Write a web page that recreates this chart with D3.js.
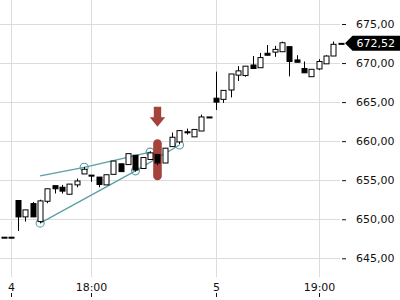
<!DOCTYPE html>
<html>
<head>
<meta charset="utf-8">
<script src="https://cdnjs.cloudflare.com/ajax/libs/d3/7.8.5/d3.min.js"></script>
<style>
    body { margin: 0; background: #fff; }
    text { font-family: "DejaVu Sans", sans-serif; font-size: 11px; fill: #111; }
</style>
</head>
<body>
<script>
(function(){

//candle values, one entry per bar
var opens  = [647.7, 647.7, 652.4, 650.3, 652.0, 649.7, 652.3, 654.3, 654.1, 653.2,
              654.4, 655.8, 655.65, 655.4, 654.4, 655.75, 657.1, 657.0, 658.2, 656.5,
              657.65, 658.3, 657.2, 659.3, 659.9, 661.2, 660.55, 661.3, 663.1, 665.5,
              665.35, 666.55, 668.45, 668.4, 669.75, 669.4, 671.25, 671.4, 671.45, 672.1,
              670.4, 669.3, 668.25, 669.25, 669.9, 670.9, 672.52];
var highs  = [647.7, 647.7, 652.4, 651.2, 652.2, 652.5, 653.9, 654.3, 654.4, 654.5,
              655.2, 656.7, 655.65, 655.4, 655.7, 657.45, 657.1, 658.4, 658.2, 657.9,
              658.7, 658.3, 659.1, 661.1, 661.35, 661.6, 661.5, 663.4, 663.1, 668.9,
              666.5, 668.6, 669.6, 669.6, 670.9, 671.3, 672.3, 672.2, 672.75, 672.1,
              671.0, 670.2, 669.2, 670.5, 671.0, 672.75, 672.52];
var lows   = [647.7, 647.7, 648.5, 649.7, 650.3, 649.5, 652.05, 653.3, 653.3, 653.2,
              654.1, 655.8, 654.8, 654.1, 654.4, 655.75, 656.1, 657.0, 656.1, 656.5,
              657.65, 656.9, 657.2, 659.3, 659.6, 660.85, 660.55, 661.3, 663.1, 664.0,
              664.9, 665.6, 667.7, 668.25, 669.3, 669.4, 671.0, 670.8, 671.45, 668.3,
              670.1, 668.75, 668.25, 669.1, 669.9, 670.9, 672.52];
var closes = [647.7, 647.7, 650.3, 651.2, 650.3, 652.35, 653.9, 653.9, 653.6, 654.5,
              654.9, 656.4, 655.55, 654.45, 655.7, 657.45, 656.1, 658.4, 656.3, 657.9,
              658.5, 657.2, 659.1, 660.5, 661.35, 661.15, 661.5, 663.1, 663.1, 665.0,
              666.5, 668.6, 669.0, 669.6, 669.3, 670.7, 671.0, 671.75, 672.6, 670.2,
              670.1, 668.75, 669.2, 670.2, 670.9, 672.4, 672.52];

//axis ticks
var xTickIndex  = [1, 12, 29, 43];
var xTickLabels = ["4", "18:00", "5", "19:00"];
var yTicks = [645, 650, 655, 660, 665, 670, 675];
var lastPrice = 672.52;

//wedge drawing: [bar index, price]
var upperLine = [[5, 655.55], [11, 656.65], [20, 658.6]];
var upperDots = [[11, 656.65], [20, 658.6]];
var lowerLine = [[5, 649.5], [18, 656.2], [24, 659.5]];
var lowerDots = [[5, 649.5], [18, 656.2], [24, 659.5]];

//signal marker
var signalIndex = 21;
var signalBand = [655.0, 660.25];
var arrowSpan = [661.85, 664.4];

var width = 400,
    height = 300,
    plotRight = 340,
    plotBottom = 277;

var svg = d3.select("body")
    .append("svg")
    .attr("width", width)
    .attr("height", height);

var x = d3.scaleLinear()
    .domain([0, opens.length - 1])
    .range([3.5, 340.8]);

var y = d3.scaleLinear()
    .domain([645, 675])
    .range([258.3, 24]);

var fmt = function(v){ return d3.format(".2f")(v).replace(".", ","); };

//grid
svg.append("g").selectAll("line")
    .data(yTicks)
    .enter()
    .append("line")
    .attr("x1", 0)
    .attr("x2", plotRight)
    .attr("y1", function(d){ return Math.round(y(d)) + 0.5; })
    .attr("y2", function(d){ return Math.round(y(d)) + 0.5; })
    .attr("stroke", "#dcdcdc");

svg.append("g").selectAll("line")
    .data(xTickIndex)
    .enter()
    .append("line")
    .attr("x1", function(d){ return Math.round(x(d)) + 0.5; })
    .attr("x2", function(d){ return Math.round(x(d)) + 0.5; })
    .attr("y1", 0)
    .attr("y2", plotBottom)
    .attr("stroke", "#dcdcdc");

//y axis on the right
var yAxis = d3.axisRight(y)
    .tickValues(yTicks)
    .tickSize(4)
    .tickPadding(10)
    .tickFormat(fmt);

var ya = svg.append("g")
    .attr("transform", "translate(342,0)")
    .call(yAxis);
ya.select(".domain").remove();
ya.selectAll("line").attr("stroke", "#111");
ya.selectAll("text").attr("fill", "#111").style("font-size", "11px").style("font-family", "DejaVu Sans");

//x axis labels with ticks underneath
var xa = svg.append("g");
xa.selectAll("text")
    .data(xTickIndex)
    .enter()
    .append("text")
    .attr("x", function(d){ return Math.round(x(d)) + 0.5; })
    .attr("y", 291)
    .attr("text-anchor", "middle")
    .text(function(d, i){ return xTickLabels[i]; });
xa.selectAll("line")
    .data(xTickIndex)
    .enter()
    .append("line")
    .attr("x1", function(d){ return Math.round(x(d)) + 0.5; })
    .attr("x2", function(d){ return Math.round(x(d)) + 0.5; })
    .attr("y1", 293)
    .attr("y2", 297)
    .attr("stroke", "#111");

//wedge lines
var line = d3.line()
    .x(function(d){ return x(d[0]); })
    .y(function(d){ return y(d[1]); });

[upperLine, lowerLine].forEach(function(pts){
    svg.append("path")
        .attr("d", line(pts))
        .attr("fill", "none")
        .attr("stroke", "#5b9ea6")
        .attr("stroke-width", 1.3);
});

svg.append("g").selectAll("circle")
    .data(upperDots.concat(lowerDots))
    .enter()
    .append("circle")
    .attr("cx", function(d){ return x(d[0]); })
    .attr("cy", function(d){ return y(d[1]); })
    .attr("r", 4)
    .attr("fill", "none")
    .attr("stroke", "#5b9ea6")
    .attr("stroke-width", 1.1);

//signal bar behind candle
svg.append("rect")
    .attr("x", x(signalIndex) - 4.3)
    .attr("width", 8.6)
    .attr("y", y(signalBand[1]))
    .attr("height", y(signalBand[0]) - y(signalBand[1]))
    .attr("rx", 4.3)
    .attr("fill", "#a6423c");

//candles
var bodyW = 5;
var candles = svg.append("g").selectAll("g")
    .data(d3.range(opens.length))
    .enter()
    .append("g");

candles.append("line")
    .attr("x1", function(i){ return Math.round(x(i)) + 0.5; })
    .attr("x2", function(i){ return Math.round(x(i)) + 0.5; })
    .attr("y1", function(i){ return y(highs[i]); })
    .attr("y2", function(i){ return y(lows[i]); })
    .attr("stroke", "#000");

candles.append("rect")
    .attr("x", function(i){ return Math.round(x(i)) + 0.5 - bodyW / 2; })
    .attr("width", bodyW)
    .attr("y", function(i){ return y(Math.max(opens[i], closes[i])); })
    .attr("height", function(i){ return Math.max(1, Math.abs(y(opens[i]) - y(closes[i]))); })
    .attr("fill", function(i){ return closes[i] < opens[i] ? "#000" : "#fff"; })
    .attr("stroke", "#000")
    .attr("stroke-width", 1);

//arrow above the signal bar
var ax = x(signalIndex),
    aTop = y(arrowSpan[1]),
    aTip = y(arrowSpan[0]),
    aNeck = aTip - 9.5;
svg.append("path")
    .attr("d", "M" + (ax - 3.7) + "," + aTop + "L" + (ax + 3.7) + "," + aTop +
               "L" + (ax + 3.7) + "," + aNeck + "L" + (ax + 7.7) + "," + aNeck +
               "L" + ax + "," + aTip + "L" + (ax - 7.7) + "," + aNeck +
               "L" + (ax - 3.7) + "," + aNeck + "Z")
    .attr("fill", "#a6423c");

//last price tag
var ly = y(lastPrice);
svg.append("path")
    .attr("d", "M345," + ly + "L352.5," + (ly - 7.5) + "L400," + (ly - 7.5) +
               "L400," + (ly + 7.5) + "L352.5," + (ly + 7.5) + "Z")
    .attr("fill", "#000");
svg.append("text")
    .attr("x", 356.5)
    .attr("y", ly + 4)
    .style("fill", "#fff")
    .text(fmt(lastPrice));

})();
</script>
</body>
</html>
